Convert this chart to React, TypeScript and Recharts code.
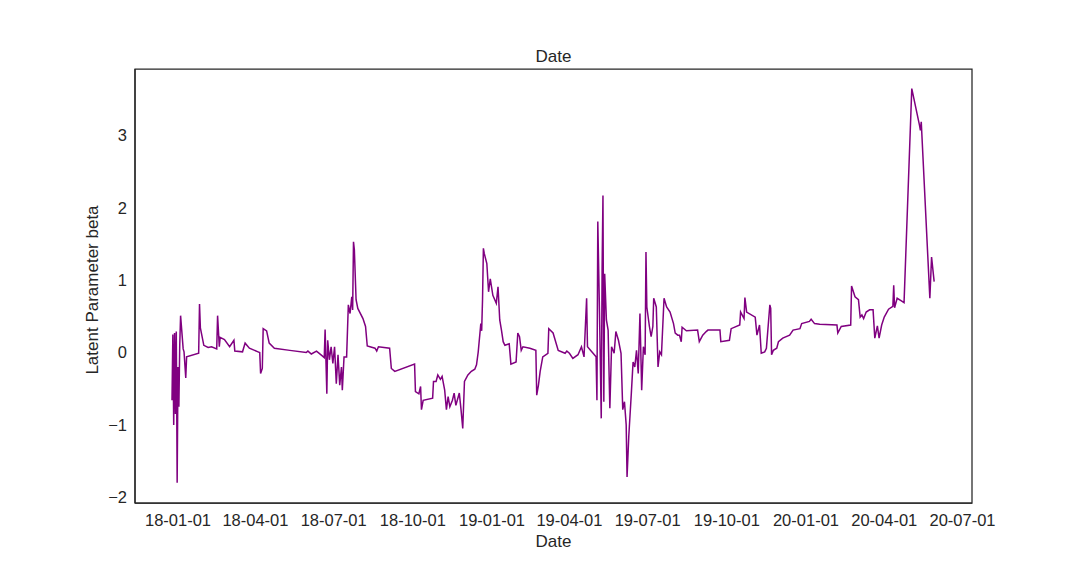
import { LineChart, Line, XAxis, YAxis, ReferenceArea } from 'recharts';

// dates of each estimate and the latent parameter beta
const dates = [
  '2017-12-25', '2017-12-26', '2017-12-27', '2017-12-28', '2017-12-29', '2017-12-30', '2017-12-31',
  '2018-01-01', '2018-01-02', '2018-01-03', '2018-01-04', '2018-01-07', '2018-01-08', '2018-01-10',
  '2018-01-11', '2018-01-25', '2018-01-26', '2018-01-27', '2018-01-31', '2018-02-05', '2018-02-09',
  '2018-02-15', '2018-02-16', '2018-02-18', '2018-02-19', '2018-02-24', '2018-03-02', '2018-03-07',
  '2018-03-08', '2018-03-17', '2018-03-20', '2018-03-25', '2018-04-04', '2018-04-06', '2018-04-07',
  '2018-04-09', '2018-04-10', '2018-04-14', '2018-04-17', '2018-04-23', '2018-05-11', '2018-05-30',
  '2018-06-01', '2018-06-05', '2018-06-11', '2018-06-17', '2018-06-20', '2018-06-21', '2018-06-23',
  '2018-06-24', '2018-06-26', '2018-06-28', '2018-06-30', '2018-07-02', '2018-07-04', '2018-07-06',
  '2018-07-08', '2018-07-10', '2018-07-11', '2018-07-13', '2018-07-16', '2018-07-18', '2018-07-20',
  '2018-07-22', '2018-07-23', '2018-07-24', '2018-07-25', '2018-07-27', '2018-07-29', '2018-08-04',
  '2018-08-07', '2018-08-09', '2018-08-18', '2018-08-20', '2018-08-22', '2018-09-04', '2018-09-06',
  '2018-09-10', '2018-10-03', '2018-10-04', '2018-10-08', '2018-10-10', '2018-10-11', '2018-10-13',
  '2018-10-24', '2018-10-25', '2018-10-28', '2018-10-30', '2018-11-02', '2018-11-04', '2018-11-07',
  '2018-11-09', '2018-11-11', '2018-11-13', '2018-11-16', '2018-11-18', '2018-11-20', '2018-11-24',
  '2018-11-26', '2018-11-28', '2018-11-30', '2018-12-04', '2018-12-08', '2018-12-12', '2018-12-14',
  '2018-12-16', '2018-12-18', '2018-12-19', '2018-12-20', '2018-12-21', '2018-12-22', '2018-12-23',
  '2018-12-26', '2018-12-28', '2018-12-30', '2019-01-02', '2019-01-06', '2019-01-08', '2019-01-10',
  '2019-01-12', '2019-01-14', '2019-01-16', '2019-01-21', '2019-01-23', '2019-01-29', '2019-01-31',
  '2019-02-02', '2019-02-04', '2019-02-06', '2019-02-14', '2019-02-21', '2019-02-22', '2019-02-24',
  '2019-02-26', '2019-03-01', '2019-03-07', '2019-03-08', '2019-03-13', '2019-03-19', '2019-03-27',
  '2019-03-29', '2019-04-01', '2019-04-05', '2019-04-11', '2019-04-15', '2019-04-18', '2019-04-21',
  '2019-04-22', '2019-04-27', '2019-05-02', '2019-05-03', '2019-05-04', '2019-05-06', '2019-05-08',
  '2019-05-09', '2019-05-10', '2019-05-11', '2019-05-12', '2019-05-14', '2019-05-16', '2019-05-18',
  '2019-05-20', '2019-05-23', '2019-05-25', '2019-05-28', '2019-05-31', '2019-06-02', '2019-06-04',
  '2019-06-06', '2019-06-07', '2019-06-09', '2019-06-12', '2019-06-14', '2019-06-16', '2019-06-18',
  '2019-06-20', '2019-06-22', '2019-06-24', '2019-06-26', '2019-06-28', '2019-06-29', '2019-06-30',
  '2019-07-03', '2019-07-05', '2019-07-07', '2019-07-08', '2019-07-11', '2019-07-13', '2019-07-15',
  '2019-07-17', '2019-07-20', '2019-07-23', '2019-07-27', '2019-07-31', '2019-08-02', '2019-08-05',
  '2019-08-07', '2019-08-09', '2019-08-10', '2019-08-15', '2019-08-28', '2019-08-30', '2019-09-03',
  '2019-09-07', '2019-09-09', '2019-09-23', '2019-09-24', '2019-10-04', '2019-10-06', '2019-10-16',
  '2019-10-17', '2019-10-21', '2019-10-22', '2019-10-24', '2019-11-03', '2019-11-05', '2019-11-08',
  '2019-11-10', '2019-11-14', '2019-11-16', '2019-11-20', '2019-11-21', '2019-11-22', '2019-11-24',
  '2019-11-28', '2019-11-30', '2019-12-05', '2019-12-13', '2019-12-17', '2019-12-25', '2019-12-27',
  '2020-01-05', '2020-01-07', '2020-01-11', '2020-01-17', '2020-02-06', '2020-02-07', '2020-02-11',
  '2020-02-22', '2020-02-23', '2020-02-27', '2020-03-02', '2020-03-04', '2020-03-06', '2020-03-08',
  '2020-03-11', '2020-03-15', '2020-03-19', '2020-03-21', '2020-03-24', '2020-03-26', '2020-03-29',
  '2020-04-01', '2020-04-06', '2020-04-11', '2020-04-12', '2020-04-13', '2020-04-16', '2020-04-20',
  '2020-04-24', '2020-05-03', '2020-05-12', '2020-05-13', '2020-05-14', '2020-05-24', '2020-05-26',
  '2020-05-29',
];

const betas = [
  -0.66, 0.25, -1.0, 0.27, -0.85, 0.29, -1.8,
  -0.2, -0.75, 0.1, 0.51, 0.05, 0.01, -0.35,
  -0.06, -0.01, 0.67, 0.34, 0.1, 0.07, 0.08,
  0.05, 0.51, 0.08, 0.21, 0.18, 0.08, 0.17,
  0.02, 0.01, 0.13, 0.06, 0.01, 0.0, -0.29,
  -0.22, 0.33, 0.3, 0.13, 0.06, 0.03, 0.0,
  0.02, -0.02, 0.02, -0.04, -0.07, 0.32, -0.57,
  0.17, -0.1, 0.08, -0.15, 0.08, -0.43, -0.03,
  -0.45, -0.2, -0.52, -0.06, -0.06, 0.66, 0.54,
  0.77, 0.59, 1.53, 1.42, 0.73, 0.61, 0.47,
  0.36, 0.09, 0.06, 0.02, 0.08, 0.06, -0.22,
  -0.26, -0.16, -0.54, -0.57, -0.47, -0.79, -0.66,
  -0.63, -0.4, -0.4, -0.31, -0.37, -0.33, -0.52,
  -0.79, -0.61, -0.75, -0.66, -0.56, -0.73, -0.56,
  -0.79, -1.05, -0.4, -0.31, -0.26, -0.23, -0.17,
  0.01, 0.27, 0.4, 0.3, 0.73, 1.44, 1.37,
  1.23, 0.84, 1.02, 0.79, 0.68, 0.91, 0.45,
  0.31, 0.15, 0.1, 0.12, -0.16, -0.13, 0.27,
  0.22, 0.03, 0.08, 0.06, 0.03, -0.59, -0.45,
  -0.26, -0.06, -0.01, 0.33, 0.27, 0.03, -0.01,
  0.02, -0.01, -0.08, -0.03, 0.08, -0.06, 0.75,
  0.08, 0.01, -0.06, -0.66, 1.81, 0.54, -0.91,
  1.16, 2.17, -0.68, 1.09, 0.45, 0.31, -0.77,
  0.08, -0.01, 0.29, 0.17, -0.01, -0.79, -0.68,
  -1.0, -1.72, -1.16, -0.56, -0.13, -0.2, 0.03,
  -0.29, 0.54, -0.52, 0.08, -0.03, 1.39, 0.63,
  0.36, 0.22, 0.36, 0.75, 0.63, -0.2, 0.01,
  -0.03, 0.75, 0.63, 0.56, 0.4, 0.27, 0.24,
  0.24, 0.15, 0.35, 0.3, 0.31, 0.15, 0.24,
  0.29, 0.31, 0.31, 0.15, 0.17, 0.33, 0.38,
  0.56, 0.47, 0.76, 0.56, 0.49, 0.24, 0.38,
  -0.01, 0.01, 0.06, 0.66, 0.61, -0.03, 0.03,
  0.06, 0.15, 0.2, 0.24, 0.31, 0.33, 0.4,
  0.43, 0.46, 0.4, 0.39, 0.38, 0.27, 0.36,
  0.38, 0.92, 0.77, 0.73, 0.49, 0.52, 0.47,
  0.56, 0.59, 0.59, 0.2, 0.37, 0.2, 0.38,
  0.49, 0.6, 0.64, 0.93, 0.62, 0.75, 0.72,
  0.69, 3.65, 3.14, 3.07, 3.19, 0.75, 1.32,
  0.98,
];

const dateTicks = [
  '2018-01-01', '2018-04-01', '2018-07-01', '2018-10-01', '2019-01-01', '2019-04-01',
  '2019-07-01', '2019-10-01', '2020-01-01', '2020-04-01', '2020-07-01',
];
const betaTicks = [-2, -1, 0, 1, 2, 3];

const data = dates.map((d, i) => ({ t: Date.parse(d), beta: betas[i] }));
const xDomain = [Date.parse('2017-11-12'), Date.parse('2020-07-12')];
const yDomain = [-2.08, 3.92];

const FONT = '"Liberation Sans", Arial, sans-serif';
const INK = '#262626';
const frame = { stroke: INK, strokeWidth: 1.25 };

const pad = (n: number) => String(n).padStart(2, '0');
const fmtDate = (t: number) => {
  const d = new Date(t);
  return `${String(d.getUTCFullYear()).slice(2)}-${pad(d.getUTCMonth() + 1)}-${pad(d.getUTCDate())}`;
};
const fmtBeta = (v: number) => (v < 0 ? `\u2212${Math.abs(v)}` : String(v));

// rotated y label, centred a little below the middle of the axis like the original
const YLabel = () => (
  <text x={92} y={290} transform="rotate(-90 92 290)" textAnchor="middle" dominantBaseline="central" fill={INK} fontSize={17} fontFamily={FONT}>
    Latent Parameter beta
  </text>
);

export default function App() {
  const tick = { fontSize: 16.5, fill: INK, fontFamily: FONT };
  return (
    <div style={{ position: 'absolute', left: 0, top: 0, width: 1080, height: 576, background: '#fff', fontFamily: FONT }}>
      <div style={{ position: 'absolute', left: 135, width: 837, top: 47, textAlign: 'center', fontSize: 17, lineHeight: '20px', color: INK }}>
        Date
      </div>
      <LineChart width={1080} height={576} data={data} margin={{ top: 69, right: 108, bottom: 0, left: 0 }}>
        <XAxis
          dataKey="t"
          type="number"
          domain={xDomain}
          allowDataOverflow
          ticks={dateTicks.map((d) => Date.parse(d))}
          tickFormatter={fmtDate}
          tick={tick}
          tickLine={false}
          tickSize={0}
          tickMargin={11}
          height={73}
          axisLine={frame}
          label={{ value: 'Date', position: 'insideBottom', offset: 29, fill: INK, fontSize: 17, fontFamily: FONT }}
        />
        <YAxis
          type="number"
          domain={yDomain}
          allowDataOverflow
          ticks={betaTicks}
          tickFormatter={fmtBeta}
          tick={tick}
          tickLine={false}
          tickSize={0}
          tickMargin={8}
          width={135}
          axisLine={frame}
          label={<YLabel />}
        />
        <ReferenceArea
          x1={xDomain[0]}
          x2={xDomain[1]}
          y1={yDomain[0]}
          y2={yDomain[1]}
          fill="none"
          fillOpacity={0}
          stroke={INK}
          strokeWidth={1.25}
          ifOverflow="visible"
        />
        <Line type="linear" dataKey="beta" stroke="#800080" strokeWidth={1.5} dot={false} isAnimationActive={false} />
      </LineChart>
    </div>
  );
}
